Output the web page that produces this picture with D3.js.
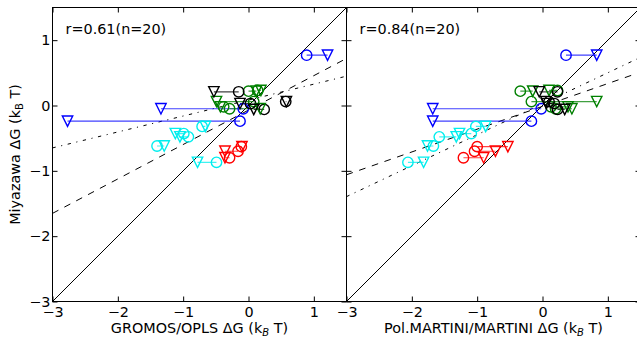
<!DOCTYPE html>
<html>
<head>
<meta charset="utf-8">
<script src="https://cdn.jsdelivr.net/npm/d3@7"></script>
<style>
  body { margin: 0; background: #fff; }
  svg { display: block; font-family: "DejaVu Sans", sans-serif; }
  .tick text { font-size: 14.4px; fill: #000; }
  .tick line { stroke: #000; }
  .lbl { font-size: 14.4px; fill: #000; }
</style>
</head>
<body>
<svg id="chart" width="637" height="337"></svg>
<script>
// one entry per compound: colour group, Miyazawa value, and the four model values
var pairColor = ["blue", "blue", "blue",
  "cyan", "cyan", "cyan", "cyan", "cyan",
  "red", "red", "red",
  "green", "green", "green", "green", "green",
  "black", "black", "black", "black"];
var miyazawa   = [-0.24, -0.05, 0.77, -0.32, -0.43, -0.48, -0.62, -0.87, -0.63, -0.70, -0.80, 0.22, 0.23, 0.06, -0.02, -0.05, 0.21, 0.06, 0.03, -0.06];
var gromos     = [-0.13, -0.08, 0.89, -0.71, -0.99, -0.92, -1.40, -0.49, -0.11, -0.16, -0.29, 0.00, 0.14, 0.08, -0.38, -0.29, -0.15, 0.57, 0.03, 0.24];
var opls       = [-2.77, -1.34, 1.21, -0.66, -1.12, -1.05, -1.29, -0.78, -0.10, -0.36, -0.36, 0.12, 0.19, -0.49, -0.43, 0.18, -0.53, 0.58, -0.13, 0.08];
var polMartini = [-0.17, -0.02, 0.36, -1.02, -1.09, -1.58, -1.67, -2.06, -1.00, -1.04, -1.21, -0.34, 0.23, -0.17, 0.13, 0.20, 0.23, 0.10, 0.18, 0.23];
var martini    = [-1.68, -1.68, 0.83, -0.87, -1.27, -1.32, -1.76, -1.82, -0.53, -0.72, -0.90, -0.15, 0.10, 0.83, 0.39, 0.45, -0.05, 0.05, 0.06, 0.34];

// fitted lines per panel: [dashed, dash-dot]
var leftFitSlope = [0.527, 0.244], leftFitIntercept = [-0.07, 0.083];
var rightFitSlope = [0.349, 0.474], rightFitIntercept = [-0.013, 0.027];

var corrLabels = ["r=0.61(n=20)", "r=0.84(n=20)"];
var xTicks = [-3, -2, -1, 0, 1];
var yTicks = [-3, -2, -1, 0, 1];
var domain = [-3, 1.5];

var colorMap = { blue: "#0000ff", cyan: "#00eeee", red: "#ff0000", green: "#008000", black: "#000000" };
var fitDash = ["6.7,6.7", "3.3,5.6,1.1,5.6"];

var svg = d3.select("#chart");
var plotTop = 7.5, plotBottom = 301.5, size = 294;
var mk = 5.2;

var y = d3.scaleLinear().domain(domain).range([plotBottom, plotTop]);

function panel(idx, x0, circX, triX, slopes, intercepts, xlabelParts) {
  var x = d3.scaleLinear().domain(domain).range([x0, x0 + size]);
  var g = svg.append("g");

  svg.append("clipPath").attr("id", "clip" + idx)
    .append("rect").attr("x", x0).attr("y", plotTop).attr("width", size).attr("height", size);
  var plot = g.append("g").attr("clip-path", "url(#clip" + idx + ")");

  // y = x reference
  plot.append("line")
    .attr("x1", x(domain[0])).attr("y1", y(domain[0]))
    .attr("x2", x(domain[1])).attr("y2", y(domain[1]))
    .attr("stroke", "#000").attr("stroke-width", 1);

  // fits
  slopes.forEach(function(s, i) {
    plot.append("line")
      .attr("x1", x(domain[0])).attr("y1", y(s * domain[0] + intercepts[i]))
      .attr("x2", x(domain[1])).attr("y2", y(s * domain[1] + intercepts[i]))
      .attr("stroke", "#000").attr("stroke-width", 1)
      .attr("stroke-dasharray", fitDash[i]);
  });

  var idxs = d3.range(miyazawa.length);

  // connectors
  plot.selectAll(".conn").data(idxs).enter().append("line")
    .attr("x1", function(i) { return x(circX[i]); })
    .attr("x2", function(i) { return x(triX[i]); })
    .attr("y1", function(i) { return y(miyazawa[i]); })
    .attr("y2", function(i) { return y(miyazawa[i]); })
    .attr("stroke", function(i) { return colorMap[pairColor[i]]; })
    .attr("stroke-opacity", 0.75)
    .attr("stroke-width", 1.2);

  // circles
  plot.selectAll(".circ").data(idxs).enter().append("circle")
    .attr("cx", function(i) { return x(circX[i]); })
    .attr("cy", function(i) { return y(miyazawa[i]); })
    .attr("r", mk)
    .attr("fill", "none")
    .attr("stroke", function(i) { return colorMap[pairColor[i]]; })
    .attr("stroke-width", 1.4);

  // down triangles
  var tri = d3.symbol().type({ draw: function(ctx) { ctx.moveTo(0, mk); ctx.lineTo(-mk, -mk); ctx.lineTo(mk, -mk); ctx.closePath(); } });
  plot.selectAll(".tri").data(idxs).enter().append("path")
    .attr("d", tri())
    .attr("transform", function(i) { return "translate(" + x(triX[i]) + "," + y(miyazawa[i]) + ")"; })
    .attr("fill", "none")
    .attr("stroke", function(i) { return colorMap[pairColor[i]]; })
    .attr("stroke-width", 1.4);

  // frame
  g.append("rect").attr("x", x0).attr("y", plotTop).attr("width", size).attr("height", size)
    .attr("fill", "none").attr("stroke", "#000").attr("stroke-width", 1);

  // axes, ticks pointing inward
  g.append("g").attr("transform", "translate(0," + plotBottom + ")")
    .call(d3.axisBottom(x).tickValues(xTicks).tickSize(-5).tickPadding(5).tickFormat(d3.format("d")))
    .call(function(a) { a.select(".domain").remove(); });
  g.append("g").attr("transform", "translate(0," + plotTop + ")")
    .call(d3.axisTop(x).tickValues(xTicks).tickSize(-5).tickFormat(""))
    .call(function(a) { a.select(".domain").remove(); });
  g.append("g").attr("transform", "translate(" + x0 + ",0)")
    .call(d3.axisLeft(y).tickValues(yTicks).tickSize(-5).tickPadding(2)
      .tickFormat(idx === 0 ? d3.format("d") : ""))
    .call(function(a) { a.select(".domain").remove(); });
  g.append("g").attr("transform", "translate(" + (x0 + size) + ",0)")
    .call(d3.axisRight(y).tickValues(yTicks).tickSize(-5).tickFormat(""))
    .call(function(a) { a.select(".domain").remove(); });
  g.selectAll(".tick text").style("font-family", "DejaVu Sans");

  g.append("text").attr("class", "lbl")
    .attr("x", x0 + 13).attr("y", 33.5)
    .text(corrLabels[idx]);

  var xl = g.append("text").attr("class", "lbl")
    .attr("x", x0 + size / 2).attr("y", 333)
    .attr("text-anchor", "middle");
  xl.append("tspan").text(xlabelParts + " \u0394G (k");
  xl.append("tspan").attr("font-size", "10px").attr("font-style", "italic").attr("dy", 2.5).text("B");
  xl.append("tspan").attr("dy", -2.5).text(" T)");
}

panel(0, 52.5, gromos, opls, leftFitSlope, leftFitIntercept, "GROMOS/OPLS");
panel(1, 346.5, polMartini, martini, rightFitSlope, rightFitIntercept, "Pol.MARTINI/MARTINI");

var yl = svg.append("text").attr("class", "lbl")
  .attr("transform", "translate(19.5," + (plotTop + size / 2) + ") rotate(-90)")
  .attr("text-anchor", "middle");
yl.append("tspan").text("Miyazawa \u0394G (k");
yl.append("tspan").attr("font-size", "10px").attr("dy", 3).text("B");
yl.append("tspan").attr("dy", -3).text(" T)");
</script>
</body>
</html>
